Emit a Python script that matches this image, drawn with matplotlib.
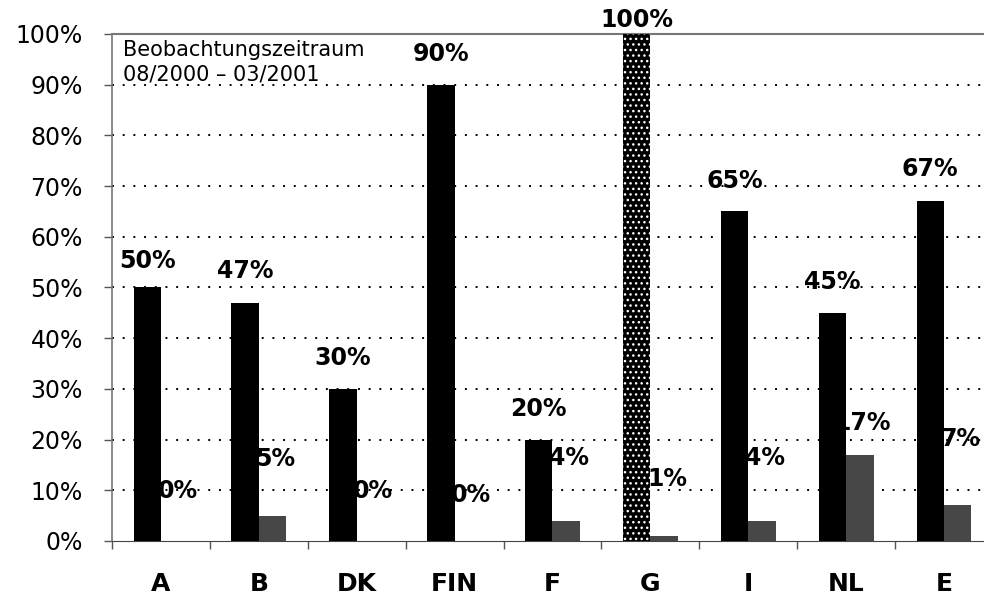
import numpy as np
import matplotlib.pyplot as plt

# Werte aus der Vorlage
laender = ['A', 'B', 'DK', 'FIN', 'F', 'G', 'I', 'NL', 'E']
anteil_1 = [50, 47, 30, 90, 20, 100, 65, 45, 67]   # schwarze Balken
anteil_2 = [0, 5, 0, 0, 4, 1, 4, 17, 7]             # graue Balken

# Abstand der Beschriftung über dem Balken (Punkte)
dy_1 = [19, 23, 22, 22, 22, 10, 22, 22, 23]
dy_2 = [36, 41, 36, 33, 45, 41, 45, 23, 48]

plt.rcParams['font.family'] = ['DejaVu Sans']

fig = plt.figure(figsize=(9.84, 5.96), dpi=100)
ax = fig.add_axes([0.1138, 0.0923, 0.8953, 0.8507])

x = np.arange(len(laender))
w = 0.28

for i in range(len(laender)):
    if laender[i] == 'G':
        ax.bar(x[i] - w / 2, anteil_1[i], w, color='black', edgecolor='white',
               hatch='...', linewidth=0, zorder=3)
    else:
        ax.bar(x[i] - w / 2, anteil_1[i], w, color='black', linewidth=0, zorder=3)
ax.bar(x + w / 2, anteil_2, w, color='#474747', linewidth=0, zorder=3)

# Beschriftungen
for i in range(len(laender)):
    ax.annotate(f'{anteil_1[i]}%', (x[i] - w / 2, anteil_1[i]),
                xytext=(0, dy_1[i]), textcoords='offset points',
                ha='center', va='center', fontsize=17, fontweight='bold',
                zorder=4, annotation_clip=False)
    ax.annotate(f'{anteil_2[i]}%', (x[i] + w / 2 + 0.03, anteil_2[i]),
                xytext=(0, dy_2[i]), textcoords='offset points',
                ha='center', va='center', fontsize=17, fontweight='bold',
                zorder=2, annotation_clip=False)

ax.text(0.0125, 0.988, 'Beobachtungszeitraum\n08/2000 \u2013 03/2001',
        transform=ax.transAxes, ha='left', va='top', fontsize=15,
        linespacing=1.25, zorder=5)

ax.set_xlim(-0.5, len(laender) - 0.5)
ax.set_ylim(0, 100)

yt = np.arange(0, 101, 10)
ax.set_yticks(yt)
ax.set_yticklabels([f'{v}%' for v in yt], fontsize=17)
ax.tick_params(axis='y', direction='out', length=6, width=1, color='#555555', pad=15)

ax.set_xticks(x)
ax.set_xticklabels(laender, fontsize=18, fontweight='bold')
ax.tick_params(axis='x', which='major', length=0, pad=22)
ax.set_xticks(np.arange(-0.5, len(laender) - 0.4, 1), minor=True)
ax.tick_params(axis='x', which='minor', direction='out', length=6, width=1, color='#555555')

for v in yt[1:]:
    ax.axhline(v, color='black', linewidth=1.4, linestyle=(0, (1, 4.5)), zorder=1)

ax.spines['top'].set_color('#777777')
ax.spines['left'].set_color('#777777')
ax.spines['bottom'].set_color('#444444')
ax.spines['right'].set_visible(False)
ax.spines['left'].set_linewidth(1.2)
ax.spines['top'].set_linewidth(1.5)

fig.savefig('out.png', dpi=100)
plt.close()
